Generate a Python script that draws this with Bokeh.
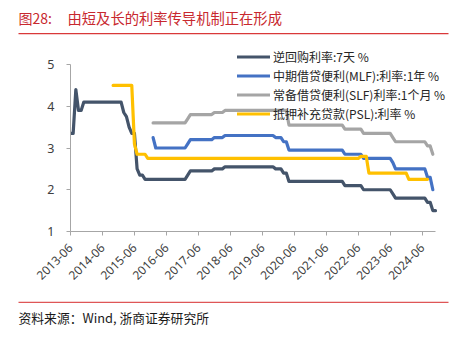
import math
from bokeh.plotting import figure
from bokeh.layouts import column, row
from bokeh.models import Range1d, FixedTicker, Legend, LegendItem, Label, BoxAnnotation
from bokeh.embed import file_html
from bokeh.resources import INLINE

# ---------------- data (step change points) ----------------
tick_labels = ["2013-06", "2014-06", "2015-06", "2016-06", "2017-06", "2018-06",
               "2019-06", "2020-06", "2021-06", "2022-06", "2023-06", "2024-06"]

series_names = ["逆回购利率:7天 %", "中期借贷便利(MLF):利率:1年 %",
                "常备借贷便利(SLF)利率:1个月 %", "抵押补充贷款(PSL):利率 %"]

rr_dates = ["2013-06", "2013-08", "2013-09", "2013-11", "2015-02", "2015-03", "2015-04",
            "2015-05", "2015-07", "2015-08", "2015-10", "2017-02", "2017-03", "2017-12",
            "2018-04", "2019-11", "2020-02", "2020-04", "2022-01", "2022-08", "2023-07",
            "2023-08", "2024-08", "2024-10"]
rr_vals = [3.35, 4.4, 3.9, 4.1, 3.85, 3.75, 3.5, 3.35, 2.5, 2.35, 2.25, 2.35, 2.45, 2.5,
           2.55, 2.5, 2.4, 2.2, 2.1, 2.0, 1.9, 1.8, 1.7, 1.5]
rr_end = "2024-11"

mlf_dates = ["2016-01", "2016-02", "2017-02", "2017-03", "2017-12", "2018-04", "2019-11",
             "2020-02", "2020-04", "2022-01", "2022-08", "2023-07", "2023-08", "2024-08",
             "2024-10"]
mlf_vals = [3.25, 3.0, 3.1, 3.2, 3.25, 3.3, 3.25, 3.15, 2.95, 2.85, 2.75, 2.65, 2.5, 2.3, 2.0]
mlf_end = "2024-10"

slf_dates = ["2016-01", "2017-02", "2017-03", "2017-12", "2018-04", "2020-04", "2022-01",
             "2022-08", "2023-07", "2023-08", "2024-08", "2024-10"]
slf_vals = [3.6, 3.7, 3.8, 3.85, 3.9, 3.55, 3.45, 3.35, 3.25, 3.15, 3.05, 2.85]
slf_end = "2024-10"

psl_dates = ["2014-10", "2015-06", "2015-07", "2015-11", "2022-07", "2022-10", "2024-01"]
psl_vals = [4.5, 3.1, 2.85, 2.75, 2.8, 2.4, 2.25]
psl_end = "2024-08"

colors = ["#44546A", "#4472C4", "#A5A5A5", "#FFC000"]

title_no = "图28:"
title_text = "由短及长的利率传导机制正在形成"
source_text = "资料来源：Wind, 浙商证券研究所"


def month_index(s):
    y, m = map(int, s.split("-"))
    return (y - 2013) * 12 + (m - 6)


def expand(dates, vals, end):
    ks = [month_index(d) for d in dates]
    xs = list(range(ks[0], month_index(end) + 1))
    ys = []
    for k in xs:
        cur = None
        for kk, vv in zip(ks, vals):
            if kk <= k:
                cur = vv
        ys.append(cur)
    return xs, ys


W = 466
TOP_H = 40
BOT_H = 42
MAIN_H = 338 - TOP_H - BOT_H

red = "#C8282E"
rule = "#D9383A"
cjk = "Noto Sans CJK SC"


def banner(h):
    f = figure(width=W, height=h, output_backend="svg", toolbar_location=None,
               x_range=Range1d(0, W), y_range=Range1d(h, 0), title=None,
               x_axis_location=None, y_axis_location=None,
               min_border_left=0, min_border_right=0, min_border_top=0, min_border_bottom=0)
    f.outline_line_color = None
    f.background_fill_color = "white"
    f.border_fill_color = "white"
    for g in f.grid:
        g.visible = False
    return f


# ---- title strip ----
top = banner(TOP_H)
top.add_layout(Label(x=18, y=17, text=title_no, text_font=cjk, text_font_size="14px",
                     text_color=red, text_baseline="middle"))
top.add_layout(Label(x=67, y=17, text=title_text, text_font=cjk, text_font_size="14.3px",
                     text_color=red, text_baseline="middle"))
top.add_layout(BoxAnnotation(left=18, right=448, top=32.6, bottom=33.8,
                             fill_color=rule, fill_alpha=1, line_alpha=0))

# ---- main chart ----
frame_top_c = TOP_H          # canvas y of frame top
frame_bot_c = 231            # canvas y of frame bottom
px_per_unit = (231 - 64) / 4.0
y_top = 5 + (64 - frame_top_c) / px_per_unit
L = 70
x_px = (435 - 70) / 137.0
R = 10
x_end = 137 + (W - R - 435) / x_px

p = figure(width=W, height=MAIN_H, output_backend="svg", toolbar_location=None, title=None,
           x_range=Range1d(0, x_end), y_range=Range1d(1, y_top),
           min_border_left=L, min_border_right=R, min_border_top=0,
           min_border_bottom=TOP_H + MAIN_H - frame_bot_c)
p.outline_line_color = None
p.xgrid.visible = False
p.ygrid.visible = False
p.background_fill_color = "white"
p.border_fill_color = "white"

renderers = []
for (d, v, e), c in zip([(rr_dates, rr_vals, rr_end), (mlf_dates, mlf_vals, mlf_end),
                         (slf_dates, slf_vals, slf_end), (psl_dates, psl_vals, psl_end)], colors):
    xs, ys = expand(d, v, e)
    r = p.line(xs, ys, line_color=c, line_width=3.2, line_join="round", line_cap="round")
    renderers.append(r)

axis_color = "#A6A6A6"
label_color = "#404040"
xt = [month_index(t) for t in tick_labels]
p.xaxis.ticker = FixedTicker(ticks=xt)
p.xaxis.major_label_overrides = {k: t for k, t in zip(xt, tick_labels)}
p.xaxis.major_label_orientation = math.pi / 4
p.xaxis.bounds = (0, 137)
p.yaxis.ticker = FixedTicker(ticks=[1, 2, 3, 4, 5])
p.yaxis.bounds = (1, 5)
for ax in (p.xaxis, p.yaxis):
    ax.axis_line_color = axis_color
    ax.axis_line_width = 1
    ax.major_tick_line_color = axis_color
    ax.major_tick_out = 4
    ax.major_tick_in = 0
    ax.minor_tick_line_color = None
    ax.major_label_text_color = label_color
    ax.major_label_text_font = "Noto Sans"
p.xaxis.major_label_text_font_size = "12px"
p.yaxis.major_label_text_font_size = "12.5px"
p.yaxis.major_label_standoff = 12
p.xaxis.major_label_standoff = 10

items = [LegendItem(label=n, renderers=[r]) for n, r in zip(series_names, renderers)]
# legend bottom-left corner, in frame screen coords (y up from frame bottom)
leg_top_c = 47.5
leg_h = 4 * 17 + 3 * 2
legend = Legend(items=items, location=(237 - L, frame_bot_c - (leg_top_c + leg_h)),
                orientation="vertical",
                background_fill_alpha=0, border_line_alpha=0, padding=0, spacing=2,
                label_height=17, glyph_height=17, glyph_width=33, label_standoff=3,
                label_text_font_size="12px", label_text_color="#262626",
                label_text_font=cjk)
p.add_layout(legend)

# ---- source strip ----
bot = banner(BOT_H)
bot.add_layout(BoxAnnotation(left=18, right=448, top=301.2 - 296, bottom=302.4 - 296,
                             fill_color=rule, fill_alpha=0.85, line_alpha=0))
bot.add_layout(Label(x=18, y=317 - 296, text=source_text, text_font=cjk,
                     text_font_size="12.8px", text_color="#1a1a1a", text_baseline="middle"))

layout = column(top, row(p), bot, spacing=0)
open("out.html", "w").write(file_html(layout, INLINE))
